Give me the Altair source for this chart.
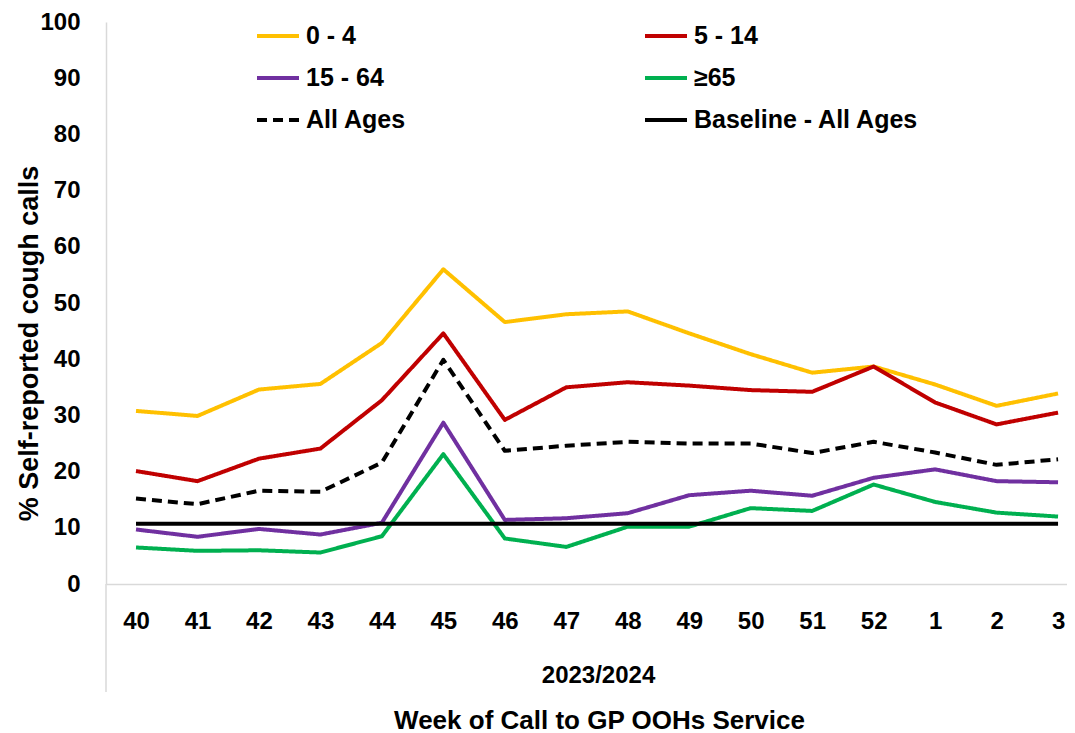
import json
import altair as alt
import pandas as pd

weeks = ["40", "41", "42", "43", "44", "45", "46", "47", "48", "49", "50", "51", "52", "1", "2", "3"]
age_0_4 = [30.8, 29.9, 34.6, 35.6, 42.9, 56.0, 46.6, 48.0, 48.5, 44.6, 40.9, 37.6, 38.7, 35.5, 31.7, 33.9]
age_5_14 = [20.1, 18.3, 22.3, 24.1, 32.7, 44.6, 29.2, 35.0, 35.9, 35.3, 34.5, 34.2, 38.7, 32.3, 28.4, 30.5]
age_15_64 = [9.7, 8.4, 9.8, 8.8, 10.9, 28.7, 11.4, 11.7, 12.6, 15.8, 16.6, 15.7, 18.9, 20.4, 18.3, 18.1]
age_65 = [6.5, 5.9, 6.0, 5.6, 8.5, 23.1, 8.1, 6.6, 10.2, 10.2, 13.5, 13.0, 17.7, 14.6, 12.7, 12.0]
all_ages = [15.2, 14.2, 16.6, 16.4, 21.6, 39.9, 23.7, 24.6, 25.3, 25.0, 25.0, 23.3, 25.3, 23.4, 21.2, 22.2]
baseline = [10.7] * 16

series_names = ["0 - 4", "5 - 14", "15 - 64", "\u226565", "All Ages", "Baseline - All Ages"]
series_values = [age_0_4, age_5_14, age_15_64, age_65, all_ages, baseline]
series_colors = ["#FFC000", "#C00000", "#7030A0", "#00B050", "#000000", "#000000"]
series_dash = [[1, 0], [1, 0], [1, 0], [1, 0], [10, 6], [1, 0]]

# legend is filled column by column (3 rows x 2 columns)
legend_order = [0, 2, 4, 1, 3, 5]
dom = [series_names[i] for i in legend_order]
col_range = [series_colors[i] for i in legend_order]
dash_range = [series_dash[i] for i in legend_order]

rows = []
for name, vals in zip(series_names, series_values):
    for i, v in enumerate(vals):
        rows.append({"series": name, "idx": i, "week": weeks[i], "value": v})
df = pd.DataFrame(rows)

FONT = "Liberation Sans"
W, H = 961, 562
step = 61.47
x_domain = [-30 / step, (W - 30) / step]

label_expr = json.dumps(weeks) + "[datum.value]"

legend_kw = dict(title=None, orient="none", legendX=149, legendY=-9,
                 columns=2, columnPadding=230, rowPadding=6,
                 symbolType="stroke", symbolSize=1764,
                 symbolStrokeWidth=4, labelFontSize=25, labelFont=FONT,
                 labelFontWeight="bold", labelColor="#000000",
                 labelOffset=5, labelLimit=400, gridAlign="each", padding=0)

lines = alt.Chart(df).mark_line(strokeWidth=4, strokeJoin="round").encode(
    x=alt.X("idx:Q",
            scale=alt.Scale(domain=x_domain, nice=False, zero=False),
            axis=alt.Axis(values=list(range(len(weeks))), labelExpr=label_expr,
                          title="2023/2024", titleX=492, titleY=91, titleBaseline="middle",
                          titleAlign="center", titleFontSize=24, titleFont=FONT,
                          titleFontWeight="bold", titleColor="#000000",
                          labelFontSize=24, labelFont=FONT, labelFontWeight="bold",
                          labelColor="#000000", labelPadding=25, ticks=False, tickSize=0,
                          grid=False, domainColor="#D9D9D9", domainWidth=1.5,
                          labelFlush=False, labelOverlap=False)),
    y=alt.Y("value:Q",
            scale=alt.Scale(domain=[0, 100], nice=False),
            axis=alt.Axis(values=list(range(0, 101, 10)), title="% Self-reported cough calls",
                          titleX=-77, titleY=321, titleAngle=270, titleBaseline="middle",
                          titleAlign="center", titleFontSize=27, titleFont=FONT,
                          titleFontWeight="bold", titleColor="#000000",
                          labelFontSize=24, labelFont=FONT, labelFontWeight="bold",
                          labelColor="#000000", labelPadding=26, ticks=False, tickSize=0,
                          grid=False, domainColor="#D9D9D9", domainWidth=1.5,
                          labelFlush=False)),
    color=alt.Color("series:N",
                    scale=alt.Scale(domain=dom, range=col_range),
                    legend=alt.Legend(**legend_kw)),
    strokeDash=alt.StrokeDash("series:N",
                              scale=alt.Scale(domain=dom, range=dash_range),
                              legend=alt.Legend(**legend_kw)),
    detail="series:N",
)

ext = alt.Chart(pd.DataFrame({"k": [0]})).mark_rule(color="#D9D9D9", strokeWidth=1.5).encode(
    x=alt.value(0), y=alt.value(H), y2=alt.value(H + 108)
)

chart = alt.layer(ext, lines).properties(
    width=W, height=H,
    padding={"left": 98, "top": 14, "right": 0, "bottom": 150},
    autosize=alt.AutoSizeParams(type="none"),
    title=alt.TitleParams("Week of Call to GP OOHs Service", orient="bottom", anchor="middle",
                          frame="group", fontSize=26, font=FONT, fontWeight="bold",
                          color="#000000", dx=13, offset=15),
).configure_view(stroke=None)

chart.save("out.html", embed_options={"renderer": "svg", "actions": False})
